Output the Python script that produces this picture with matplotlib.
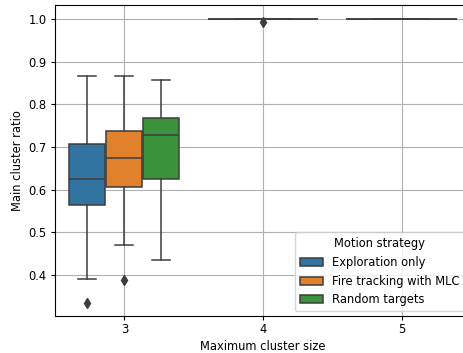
import matplotlib.pyplot as plt
from matplotlib.patches import Patch

# data
cluster_sizes = [3, 4, 5]
strategies = ['Exploration only', 'Fire tracking with MLC', 'Random targets']
colors = ['#3274a1', '#e1812c', '#3a923a']
line_col = '#3d3d3d'

# size 3, one box per strategy
q1_3 = [0.564, 0.607, 0.624]
med_3 = [0.626, 0.675, 0.727]
q3_3 = [0.708, 0.737, 0.767]
lo_3 = [0.391, 0.470, 0.434]
hi_3 = [0.866, 0.867, 0.856]
fliers_3 = [[0.335], [0.389], []]

# size 4 and 5: everything sits at 1.0
q1_45 = [1.0, 1.0]
med_45 = [1.0, 1.0]
q3_45 = [1.0, 1.0]
lo_45 = [1.0, 1.0]
hi_45 = [1.0, 1.0]
fliers_45 = [[0.993], []]

plt.rcParams['font.family'] = 'DejaVu Sans'
plt.rcParams['font.size'] = 8.3

fig = plt.figure(figsize=(4.64, 3.53), dpi=100)
ax = fig.add_axes([55 / 464, 1 - 316 / 353, 416 / 464, 311 / 353])
ax.set_axisbelow(True)
ax.grid(True, color='#b0b0b0', linewidth=0.8)

n = len(strategies)
w = 0.8 / n
box_props = dict(edgecolor=line_col, linewidth=1.1)
line_props = dict(color=line_col, linewidth=1.1)
flier_props = dict(marker='d', markerfacecolor=line_col, markeredgecolor=line_col,
                   markersize=5, linestyle='none')

for i in range(n):
    st = [dict(med=med_3[i], q1=q1_3[i], q3=q3_3[i], whislo=lo_3[i],
               whishi=hi_3[i], fliers=fliers_3[i])]
    pos = 0 - 0.4 + w / 2 + i * w
    bp = ax.bxp(st, positions=[pos], widths=w * 0.98, patch_artist=True,
                boxprops=box_props, medianprops=line_props, whiskerprops=line_props,
                capprops=line_props, flierprops=flier_props, capwidths=w * 0.49,
                manage_ticks=False)
    bp['boxes'][0].set_facecolor(colors[i])

for j in range(2):
    st = [dict(med=med_45[j], q1=q1_45[j], q3=q3_45[j], whislo=lo_45[j],
               whishi=hi_45[j], fliers=fliers_45[j])]
    bp = ax.bxp(st, positions=[j + 1], widths=0.8, patch_artist=True,
                boxprops=box_props, medianprops=line_props, whiskerprops=line_props,
                capprops=line_props, flierprops=flier_props, capwidths=0.4,
                manage_ticks=False)
    bp['boxes'][0].set_facecolor(colors[0])

ax.set_xlim(-0.5, 2.5)
ax.set_ylim(0.3035, 1.033)
ax.set_xticks([0, 1, 2])
ax.set_xticklabels([str(c) for c in cluster_sizes])
ax.set_yticks([0.4, 0.5, 0.6, 0.7, 0.8, 0.9, 1.0])
ax.tick_params(axis='x', length=2.6, pad=2.5)
ax.tick_params(axis='y', length=3, pad=3)
ax.set_xlabel('Maximum cluster size', labelpad=3)
ax.set_ylabel('Main cluster ratio', labelpad=3)

handles = [Patch(facecolor=colors[i], edgecolor=line_col, linewidth=1.1, label=strategies[i])
           for i in range(n)]
fig.legend(handles=handles, title='Motion strategy', loc='lower right',
           bbox_to_anchor=(464 / 464, 1 - 311 / 353), title_fontsize=8.3,
           borderaxespad=0.0)

fig.savefig('out.png', dpi=100)
